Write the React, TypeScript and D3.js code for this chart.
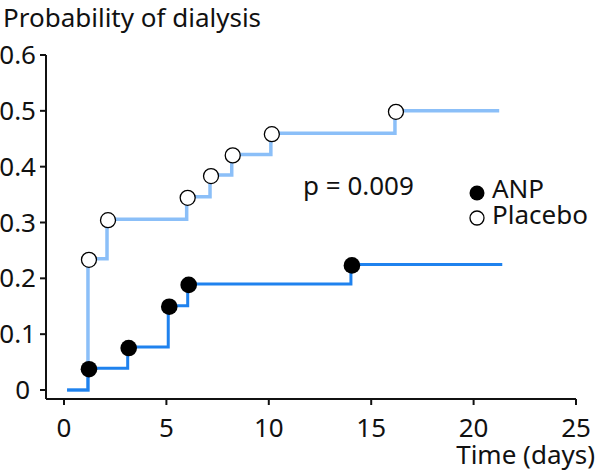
import React from "react";
import * as d3 from "d3";

const anpTimes = [0.15, 1.17, 3.11, 5.09, 6.04, 14.01];
const anpValues = [0, 0.039, 0.077, 0.151, 0.19, 0.225];
const anpEnd = 21.4;

const placeboTimes = [0.15, 1.17, 2.1, 5.99, 7.13, 8.19, 10.1, 16.16];
const placeboValues = [0, 0.235, 0.306, 0.346, 0.385, 0.422, 0.46, 0.5];
const placeboEnd = 21.25;

const xTicks = [0, 5, 10, 15, 20, 25];
const yTicks = [0, 0.1, 0.2, 0.3, 0.4, 0.5, 0.6];

const W = 600;
const H = 474;
const FONT = "'Noto Sans', sans-serif";
const FS = 26;
const LIGHT = "#8bbff8";
const DARK = "#1f82ee";

export default function App() {
  const x = d3.scaleLinear().domain([0, 25]).range([64, 576]);
  const y = d3.scaleLinear().domain([0, 0.6]).range([390, 55]);
  const axisY = 399;
  const axisX = 46;

  const stepPath = (times: number[], values: number[], end: number) => {
    const pts: [number, number][] = times.map((t, i) => [t, values[i]]);
    pts.push([end, values[values.length - 1]]);
    const line = d3
      .line<[number, number]>()
      .x((d) => x(d[0]))
      .y((d) => y(d[1]))
      .curve(d3.curveStepAfter);
    return line(pts) || "";
  };

  return (
    <svg width={W} height={H} style={{ position: "absolute", left: 0, top: 0, background: "#fff" }} fontFamily={FONT}>
      <text x={3} y={27} fontSize={FS} fill="#111">Probability of dialysis</text>

      {/* y axis */}
      <line x1={axisX} x2={axisX} y1={y(0.6)} y2={axisY} stroke="#111" strokeWidth={2} />
      {yTicks.map((t) => (
        <g key={"y" + t}>
          <line x1={axisX - 6} x2={axisX} y1={y(t)} y2={y(t)} stroke="#111" strokeWidth={2} />
          <text
            x={t === 0 ? 30 : 36}
            y={y(t)}
            dy="0.35em"
            textAnchor="end"
            fontSize={FS}
            fill="#111"
          >
            {t === 0 ? "0" : d3.format(".1f")(t)}
          </text>
        </g>
      ))}

      {/* x axis */}
      <line x1={axisX} x2={x(25)} y1={axisY} y2={axisY} stroke="#111" strokeWidth={2} />
      {xTicks.map((t) => (
        <g key={"x" + t}>
          <line x1={x(t)} x2={x(t)} y1={axisY} y2={axisY + 6} stroke="#111" strokeWidth={2} />
          <text x={x(t)} y={437} textAnchor="middle" fontSize={FS} fill="#111">
            {t}
          </text>
        </g>
      ))}
      <text x={595} y={464} textAnchor="end" fontSize={FS} fill="#111">Time (days)</text>

      {/* curves */}
      <path d={stepPath(placeboTimes, placeboValues, placeboEnd)} fill="none" stroke={LIGHT} strokeWidth={3.5} />
      <path d={stepPath(anpTimes, anpValues, anpEnd)} fill="none" stroke={DARK} strokeWidth={3} />

      {placeboTimes.slice(1).map((t, i) => (
        <circle key={"p" + i} cx={x(t) + 1} cy={y(placeboValues[i + 1]) + 1} r={7.5} fill="#fff" stroke="#000" strokeWidth={1.3} />
      ))}
      {anpTimes.slice(1).map((t, i) => (
        <circle key={"a" + i} cx={x(t) + 1} cy={y(anpValues[i + 1]) + 1} r={8.3} fill="#000" />
      ))}

      <text x={303} y={195} fontSize={FS} fill="#111">p = 0.009</text>

      {/* legend */}
      <circle cx={477} cy={193} r={7.5} fill="#000" />
      <text x={492} y={198} fontSize={FS} fill="#111">ANP</text>
      <circle cx={477} cy={218} r={7} fill="#fff" stroke="#000" strokeWidth={1.3} />
      <text x={492} y={224} fontSize={FS} fill="#111">Placebo</text>
    </svg>
  );
}
